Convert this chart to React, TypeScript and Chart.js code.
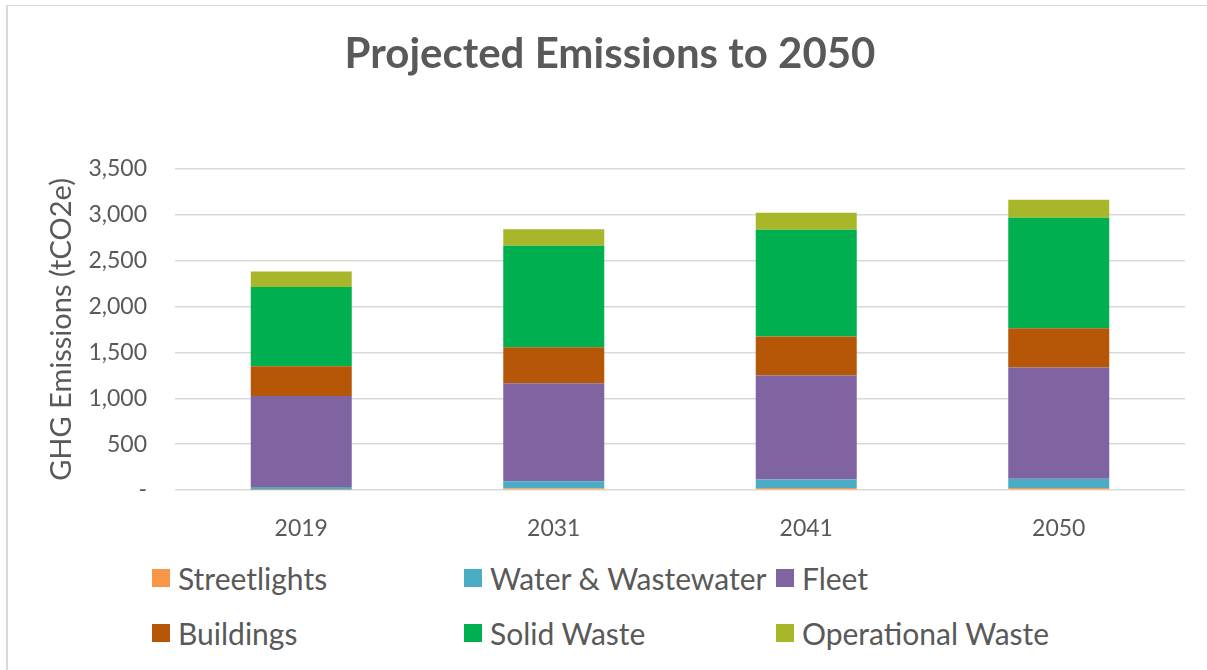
import React, { useEffect, useRef } from "react";
import { Chart, registerables } from "chart.js";

Chart.register(...registerables);

const categories = ["2019", "2031", "2041", "2050"];
const seriesNames = ["Streetlights", "Water & Wastewater", "Fleet", "Buildings", "Solid Waste", "Operational Waste"];
const seriesColors = ["#F79646", "#4BACC6", "#8064A2", "#B65708", "#00B050", "#A8B62A"];
const streetlights = [2, 20, 22, 22];
const water = [30, 75, 92, 100];
const fleet = [993, 1070, 1134, 1213];
const buildings = [324, 392, 426, 429];
const solidWaste = [865, 1105, 1163, 1204];
const operationalWaste = [168, 182, 185, 196];
const seriesValues = [streetlights, water, fleet, buildings, solidWaste, operationalWaste];
const yTickMax = 3500;
const yTickStep = 500;

const TEXT = "#595959";
const FONT = "Lato, 'Liberation Sans', sans-serif";

export default function App() {
  const ref = useRef<HTMLCanvasElement | null>(null);

  useEffect(() => {
    if (!ref.current) return;
    const chart = new Chart(ref.current, {
      type: "bar",
      data: {
        labels: categories,
        datasets: seriesNames.map((name, i) => ({
          label: name,
          data: seriesValues[i],
          backgroundColor: seriesColors[i],
          borderWidth: 0,
          barPercentage: 0.4,
          categoryPercentage: 1,
        })),
      },
      options: {
        animation: false,
        responsive: false,
        maintainAspectRatio: false,
        layout: { padding: { left: 35, right: 22, top: 0, bottom: 0 } },
        plugins: {
          legend: { display: false },
          tooltip: { enabled: false },
          title: {
            display: true,
            text: "Projected Emissions to 2050",
            color: TEXT,
            font: { family: FONT, size: 42, weight: "bold" },
            padding: { top: 29, bottom: 89.6 },
          },
        },
        scales: {
          x: {
            stacked: true,
            grid: { display: false },
            border: { display: false },
            ticks: { color: TEXT, font: { family: FONT, size: 23 }, padding: 17 },
            afterFit: (s: any) => {
              s.height = 50;
            },
          },
          y: {
            stacked: true,
            min: 0,
            max: yTickMax,
            border: { display: false },
            grid: { color: "#D9D9D9", lineWidth: 1.5, drawTicks: false },
            ticks: {
              stepSize: yTickStep,
              color: TEXT,
              font: { family: FONT, size: 23 },
              padding: 28,
              callback: (v: any) => (Number(v) === 0 ? "-" : Number(v).toLocaleString("en-US")),
            },
            title: {
              display: true,
              text: "GHG Emissions (tCO2e)",
              color: TEXT,
              font: { family: FONT, size: 29 },
              padding: { top: 9, bottom: 0 },
            },
            afterFit: (s: any) => {
              s.width = 140;
            },
          },
        },
      },
    });
    return () => chart.destroy();
  }, []);

  const cols = [152, 464, 776];
  const rows = [578, 633];

  return (
    <div style={{ position: "absolute", left: 0, top: 0, width: 1207, height: 670, overflow: "hidden", background: "#fff" }}>
      <div
        style={{
          position: "absolute",
          left: 6,
          top: 5,
          width: 1300,
          height: 800,
          borderLeft: "2px solid #D9D9D9",
          borderTop: "1px solid #D9D9D9",
        }}
      />
      <canvas ref={ref} width={1207} height={540} style={{ position: "absolute", left: 0, top: 0, width: 1207, height: 540 }} />
      {seriesNames.map((name, i) => {
        const c = cols[i % 3];
        const r = rows[Math.floor(i / 3)];
        return (
          <div
            key={name}
            style={{
              position: "absolute",
              left: c,
              top: r - 20,
              height: 40,
              display: "flex",
              alignItems: "center",
              whiteSpace: "nowrap",
              fontFamily: FONT,
              fontSize: 30,
              color: TEXT,
            }}
          >
            <span style={{ display: "inline-block", width: 18, height: 18, background: seriesColors[i], marginRight: 8 }} />
            <span>{name}</span>
          </div>
        );
      })}
    </div>
  );
}
